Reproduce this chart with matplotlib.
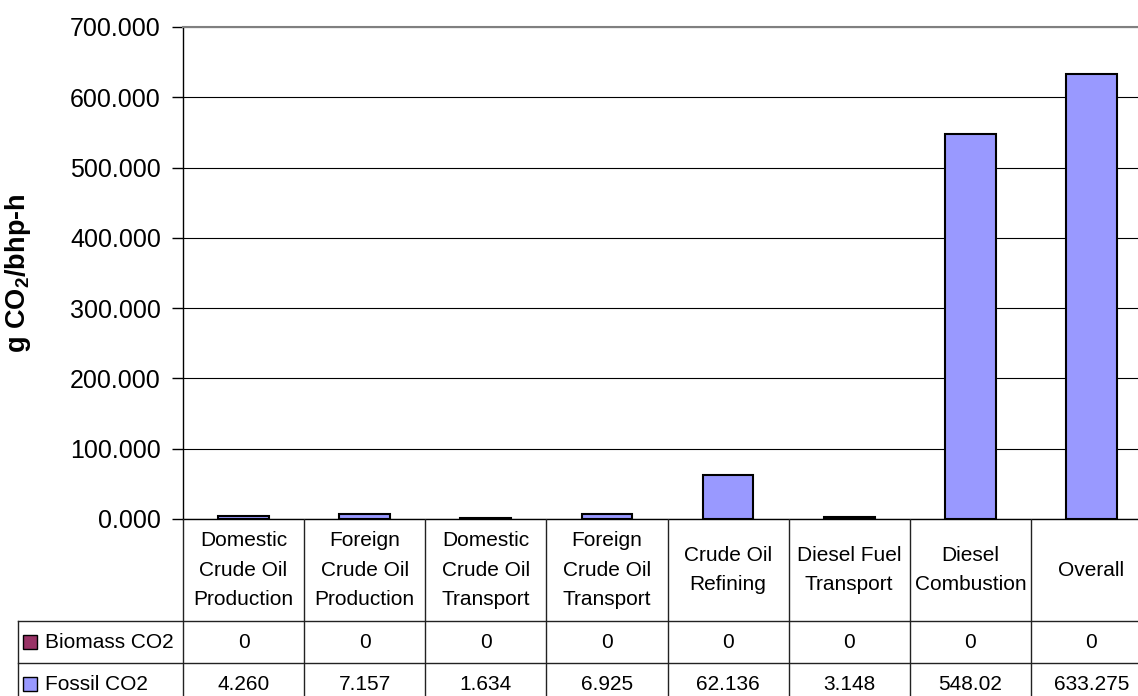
import numpy as np
import matplotlib
matplotlib.use("Agg")
from matplotlib import pyplot as plt

plt.rcParams['font.family'] = ['Liberation Sans', 'DejaVu Sans']
plt.rcParams['mathtext.fontset'] = 'custom'
plt.rcParams['mathtext.rm'] = 'Liberation Sans:bold'

categories = ["Domestic\nCrude Oil\nProduction", "Foreign\nCrude Oil\nProduction",
              "Domestic\nCrude Oil\nTransport", "Foreign\nCrude Oil\nTransport",
              "Crude Oil\nRefining", "Diesel Fuel\nTransport", "Diesel\nCombustion",
              "Overall"]
biomass = [0, 0, 0, 0, 0, 0, 0, 0]
fossil = [4.260, 7.157, 1.634, 6.925, 62.136, 3.148, 548.02, 633.275]
biomass_txt = ["0", "0", "0", "0", "0", "0", "0", "0"]
fossil_txt = ["4.260", "7.157", "1.634", "6.925", "62.136", "3.148", "548.02", "633.275"]
series = ["Biomass CO2", "Fossil CO2"]
colors = ["#993366", "#9999FF"]

W, H = 1138, 696
fig = plt.figure(figsize=(W / 100, H / 100), dpi=100)

# plot area in pixels (right edge runs off the picture)
px_l, px_r, px_t, px_b = 183, 1152, 27, 519
ax = fig.add_axes([px_l / W, (H - px_b) / H, (px_r - px_l) / W, (px_b - px_t) / H])

x = np.arange(len(categories))
ax.bar(x, biomass, width=0.42, color=colors[0], edgecolor='black', lw=1.5, zorder=3)
ax.bar(x, fossil, width=0.42, bottom=biomass, color=colors[1], edgecolor='black',
       lw=1.5, zorder=3)

ax.set_xlim(-0.5, len(categories) - 0.5)
ax.set_ylim(0, 700)
ax.set_yticks(np.arange(0, 701, 100))
ax.set_yticklabels([f"{v:.3f}" for v in np.arange(0, 701, 100)], fontsize=18)
ax.tick_params(axis='y', length=8, width=1, pad=8, direction='out')
ax.set_xticks([])
ax.yaxis.grid(True, color='black', lw=0.8, zorder=0)
ax.set_axisbelow(True)
for s in ['top', 'right']:
    ax.spines[s].set_color('#808080')
    ax.spines[s].set_linewidth(1.5)
ax.spines['left'].set_linewidth(1)
ax.spines['bottom'].set_linewidth(1)
ax.set_ylabel("g CO$_\\mathrm{2}$/bhp-h", fontsize=19.5, fontweight='bold')
ax.yaxis.set_label_coords(-150 / (px_r - px_l), 0.5)

# data table below the plot
tb_b = 705
ppu = (px_r - px_l) / len(categories)
tx = fig.add_axes([0, (H - tb_b) / H, px_r / W, (tb_b - px_b) / H])
tx.set_xlim(-0.5 - px_l / ppu, len(categories) - 0.5)
tx.set_ylim(tb_b - px_b, 0)
tx.axis('off')

head_h, row_h = 102, 42
leg_l = -0.5 - (px_l - 18) / ppu
lc = '#222222'
for i in range(len(categories) + 1):
    tx.plot([i - 0.5, i - 0.5], [0, head_h + 2 * row_h], color=lc, lw=1)
tx.plot([leg_l, leg_l], [head_h, head_h + 2 * row_h], color=lc, lw=1)
for yy in [head_h, head_h + row_h, head_h + 2 * row_h]:
    tx.plot([leg_l, len(categories) - 0.5], [yy, yy], color=lc, lw=1)

for i, c in enumerate(categories):
    tx.text(i, head_h / 2, c, ha='center', va='center', fontsize=15, linespacing=1.7)
    tx.text(i, head_h + row_h / 2, biomass_txt[i], ha='center', va='center', fontsize=15)
    tx.text(i, head_h + 1.5 * row_h, fossil_txt[i], ha='center', va='center', fontsize=15)

key_x = leg_l + 12 / ppu
for j, name in enumerate(series):
    yy = head_h + (j + 0.5) * row_h
    tx.plot([key_x], [yy], marker='s', ms=10.5, mfc=colors[j], mec='black', mew=1)
    tx.text(leg_l + 27 / ppu, yy, name, ha='left', va='center', fontsize=15)

fig.savefig("out.png", dpi=100)
